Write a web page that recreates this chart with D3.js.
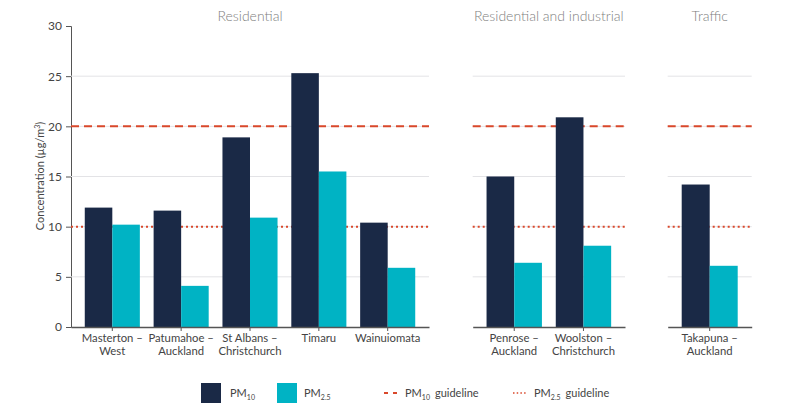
<!DOCTYPE html>
<html><head><meta charset="utf-8">
<script src="https://cdn.jsdelivr.net/npm/d3@7"></script>
<style>body{margin:0;background:#fff;} svg{display:block;font-family:Lato,"Open Sans",sans-serif;}</style>
</head><body>
<svg id="c" width="795" height="416"></svg>
<script>
const panelTitles = ["Residential", "Residential and industrial", "Traffic"];
const panelSites = [
  ["Masterton – West", "Patumahoe – Auckland", "St Albans – Christchurch", "Timaru", "Wainuiomata"],
  ["Penrose – Auckland", "Woolston – Christchurch"],
  ["Takapuna – Auckland"]
];
const siteLabels = {
  "Masterton – West": ["Masterton –", "West"],
  "Patumahoe – Auckland": ["Patumahoe –", "Auckland"],
  "St Albans – Christchurch": ["St Albans –", "Christchurch"],
  "Timaru": ["Timaru"],
  "Wainuiomata": ["Wainuiomata"],
  "Penrose – Auckland": ["Penrose –", "Auckland"],
  "Woolston – Christchurch": ["Woolston –", "Christchurch"],
  "Takapuna – Auckland": ["Takapuna –", "Auckland"]
};
const pm10 = [11.9, 11.6, 18.9, 25.3, 10.4, 15.0, 20.9, 14.2];
const pm25 = [10.2, 4.1, 10.9, 15.5, 5.9, 6.4, 8.1, 6.1];
const yTicks = [0, 5, 10, 15, 20, 25, 30];
const pm10Guideline = 20;
const pm25Guideline = 10;

const allSites = panelSites.flat();
const valueOf = {};
allSites.forEach((s, i) => valueOf[s] = {pm10: pm10[i], pm25: pm25[i]});

const C10 = "#1a2946", C25 = "#00b3c4", RED = "#d9482b";
const svg = d3.select("#c");
const y = d3.scaleLinear().domain([0, 30]).range([327, 26]);
const panelRanges = [[71, 429], [472.7, 625], [667.7, 751.7]];

// y axis
const yAx = svg.append("g").attr("transform", "translate(71,0)")
  .call(d3.axisLeft(y).tickValues(yTicks).tickSize(5).tickPadding(4));
yAx.select(".domain").attr("stroke", "#555");
yAx.selectAll(".tick line").attr("stroke", "#555");
yAx.selectAll("text").attr("fill", "#444").style("font-size", "12px").style("font-family", "Lato");

svg.append("text").attr("transform", "translate(44,176) rotate(-90)")
  .attr("text-anchor", "middle").attr("fill", "#444").style("font-size", "11px")
  .html('Concentration (µg/m<tspan dy="-4" font-size="7px">3</tspan><tspan dy="4">)</tspan>');

panelSites.forEach((sites, pi) => {
  const [x0, x1] = panelRanges[pi];
  const g = svg.append("g");
  const x = d3.scaleBand().domain(sites).range([x0, x1]).paddingInner(0.2).paddingOuter(0.2);
  const xs = d3.scaleBand().domain(["pm10", "pm25"]).range([0, x.bandwidth()]);
  // gridlines
  g.selectAll("line.grid").data(yTicks.filter(t => t > 0 && t < 30)).join("line")
    .attr("x1", x0).attr("x2", x1).attr("y1", d => y(d)).attr("y2", d => y(d))
    .attr("stroke", "#e3e3e6").attr("stroke-width", 1);
  // guidelines
  g.append("line").attr("x1", x0).attr("x2", x1).attr("y1", y(pm10Guideline)).attr("y2", y(pm10Guideline))
    .attr("stroke", RED).attr("stroke-width", 2).attr("stroke-dasharray", "8,5");
  g.append("line").attr("x1", x0).attr("x2", x1).attr("y1", y(pm25Guideline)).attr("y2", y(pm25Guideline))
    .attr("stroke", RED).attr("stroke-width", 2).attr("stroke-dasharray", "2,3");
  // bars
  sites.forEach(s => {
    ["pm10", "pm25"].forEach(k => {
      g.append("rect").attr("x", x(s) + xs(k)).attr("width", xs.bandwidth())
        .attr("y", y(valueOf[s][k])).attr("height", y(0) - y(valueOf[s][k]))
        .attr("fill", k === "pm10" ? C10 : C25);
    });
  });
  // x axis
  const xa = g.append("g").attr("transform", "translate(0,327)")
    .call(d3.axisBottom(x).tickSize(4).tickSizeOuter(0).tickFormat(""));
  xa.select(".domain").attr("stroke", "#555").attr("stroke-width", 1.5);
  xa.selectAll(".tick line").attr("stroke", "#555");
  sites.forEach(s => {
    const lines = siteLabels[s];
    const t = g.append("text").attr("text-anchor", "middle").attr("fill", "#444")
      .style("font-size", "11.3px").attr("x", x(s) + x.bandwidth() / 2).attr("y", 342);
    lines.forEach((l, i) => t.append("tspan").attr("x", x(s) + x.bandwidth() / 2).attr("dy", i === 0 ? 0 : 12.5).text(l));
  });
  // title
  svg.append("text").attr("x", (x0 + x1) / 2).attr("y", 21).attr("text-anchor", "middle")
    .attr("fill", "#808080").style("font-size", "14px").style("font-weight", 300).text(panelTitles[pi]);
});

// legend
const lg = svg.append("g").style("font-size", "11px").attr("fill", "#444");
lg.append("rect").attr("x", 201).attr("y", 383).attr("width", 20).attr("height", 20).attr("fill", C10);
lg.append("text").attr("x", 230).attr("y", 397).html('PM<tspan dy="3" font-size="7px">10</tspan>');
lg.append("rect").attr("x", 277).attr("y", 383).attr("width", 20).attr("height", 20).attr("fill", C25);
lg.append("text").attr("x", 304).attr("y", 397).html('PM<tspan dy="3" font-size="7px">2.5</tspan>');
lg.append("line").attr("x1", 384).attr("x2", 397).attr("y1", 393).attr("y2", 393)
  .attr("stroke", RED).attr("stroke-width", 2).attr("stroke-dasharray", "4,5");
const t1 = lg.append("text").attr("x", 405).attr("y", 397).html('PM<tspan dy="3" font-size="7px">10</tspan>');
lg.append("text").attr("x", 405 + t1.node().getComputedTextLength() + 5).attr("y", 397).text("guideline");
lg.append("line").attr("x1", 513).attr("x2", 527).attr("y1", 393).attr("y2", 393)
  .attr("stroke", RED).attr("stroke-width", 1.5).attr("stroke-dasharray", "1.5,2.2");
const t2 = lg.append("text").attr("x", 534).attr("y", 397).html('PM<tspan dy="3" font-size="7px">2.5</tspan>');
lg.append("text").attr("x", 534 + t2.node().getComputedTextLength() + 5).attr("y", 397).text("guideline");
</script>
</body></html>
